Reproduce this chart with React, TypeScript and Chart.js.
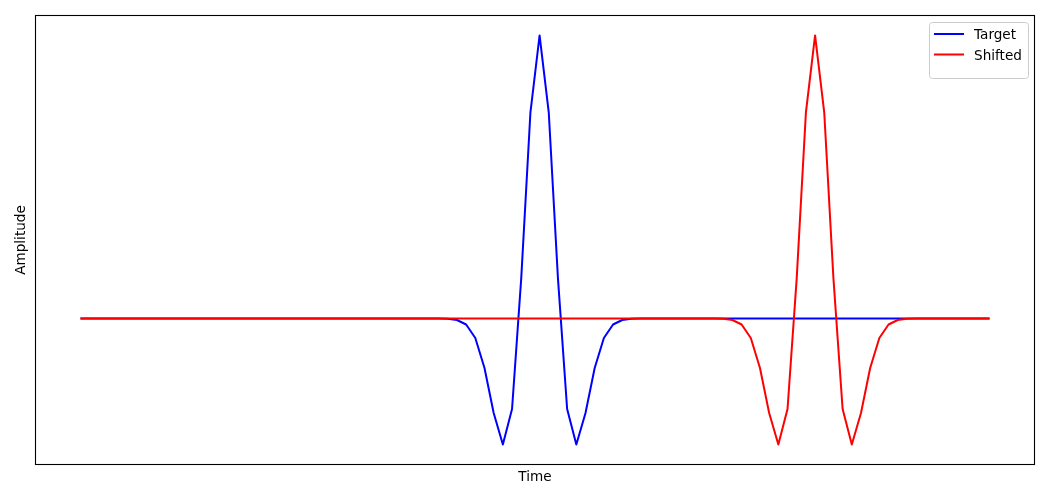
import React, { useEffect, useRef } from "react";
import { Chart, registerables } from "chart.js";

Chart.register(...registerables);

const timeSteps = [
  0, 1, 2, 3, 4, 5, 6, 7, 8, 9,
  10, 11, 12, 13, 14, 15, 16, 17, 18, 19,
  20, 21, 22, 23, 24, 25, 26, 27, 28, 29,
  30, 31, 32, 33, 34, 35, 36, 37, 38, 39,
  40, 41, 42, 43, 44, 45, 46, 47, 48, 49,
  50, 51, 52, 53, 54, 55, 56, 57, 58, 59,
  60, 61, 62, 63, 64, 65, 66, 67, 68, 69,
  70, 71, 72, 73, 74, 75, 76, 77, 78, 79,
  80, 81, 82, 83, 84, 85, 86, 87, 88, 89,
  90, 91, 92, 93, 94, 95, 96, 97, 98, 99,
];

const targetValues = [
  0, 0, 0, 0, 0, 0, 0, 0, 0, 0,
  0, 0, 0, 0, 0, 0, 0, 0, 0, 0,
  0, 0, 0, 0, 0, 0, 0, 0, 0, 0,
  0, 0, 0, 0, 0, 0, 0, 0, 0, -0.0002,
  -0.001, -0.0051, -0.021, -0.0688, -0.1748, -0.3337, -0.445, -0.3195, 0.1418, 0.7272,
  1, 0.7272, 0.1418, -0.3195, -0.445, -0.3337, -0.1748, -0.0688, -0.021, -0.0051,
  -0.001, -0.0002, 0, 0, 0, 0, 0, 0, 0, 0,
  0, 0, 0, 0, 0, 0, 0, 0, 0, 0,
  0, 0, 0, 0, 0, 0, 0, 0, 0, 0,
  0, 0, 0, 0, 0, 0, 0, 0, 0, 0,
];

const shiftedValues = [
  0, 0, 0, 0, 0, 0, 0, 0, 0, 0,
  0, 0, 0, 0, 0, 0, 0, 0, 0, 0,
  0, 0, 0, 0, 0, 0, 0, 0, 0, 0,
  0, 0, 0, 0, 0, 0, 0, 0, 0, 0,
  0, 0, 0, 0, 0, 0, 0, 0, 0, 0,
  0, 0, 0, 0, 0, 0, 0, 0, 0, 0,
  0, 0, 0, 0, 0, 0, 0, 0, 0, -0.0002,
  -0.001, -0.0051, -0.021, -0.0688, -0.1748, -0.3337, -0.445, -0.3195, 0.1418, 0.7272,
  1, 0.7272, 0.1418, -0.3195, -0.445, -0.3337, -0.1748, -0.0688, -0.021, -0.0051,
  -0.001, -0.0002, 0, 0, 0, 0, 0, 0, 0, 0,
];

const seriesNames = ["Target", "Shifted"];
const seriesColors = ["#0000ff", "#ff0000"];
const xAxisTitle = "Time";
const yAxisTitle = "Amplitude";

const FONT = '"DejaVu Sans", sans-serif';

const framePlugin = {
  id: "mplFrame",
  afterDraw(chart: any) {
    const { ctx, chartArea } = chart;
    const { left, top, right, bottom } = chartArea;
    ctx.save();
    // axes frame
    ctx.strokeStyle = "#000000";
    ctx.lineWidth = 1.1;
    ctx.strokeRect(Math.round(left) + 0.5, Math.round(top) + 0.5, Math.round(right - left) - 1, Math.round(bottom - top) - 1);

    // axis titles
    ctx.fillStyle = "#000000";
    ctx.font = `13.6px ${FONT}`;
    ctx.textAlign = "center";
    ctx.textBaseline = "middle";
    ctx.fillText(xAxisTitle, (left + right) / 2, 477.5);
    ctx.save();
    ctx.translate(21, (top + bottom) / 2);
    ctx.rotate(-Math.PI / 2);
    ctx.fillText(yAxisTitle, 0, 0);
    ctx.restore();

    // legend
    const bx = 929.5, by = 22.5, bw = 99, bh = 56, r = 3;
    ctx.beginPath();
    ctx.moveTo(bx + r, by);
    ctx.lineTo(bx + bw - r, by);
    ctx.quadraticCurveTo(bx + bw, by, bx + bw, by + r);
    ctx.lineTo(bx + bw, by + bh - r);
    ctx.quadraticCurveTo(bx + bw, by + bh, bx + bw - r, by + bh);
    ctx.lineTo(bx + r, by + bh);
    ctx.quadraticCurveTo(bx, by + bh, bx, by + bh - r);
    ctx.lineTo(bx, by + r);
    ctx.quadraticCurveTo(bx, by, bx + r, by);
    ctx.closePath();
    ctx.fillStyle = "rgba(255,255,255,0.8)";
    ctx.fill();
    ctx.strokeStyle = "#cccccc";
    ctx.lineWidth = 1;
    ctx.stroke();

    const rows = [34, 54.5];
    ctx.textAlign = "left";
    ctx.textBaseline = "middle";
    ctx.font = `13.6px ${FONT}`;
    seriesNames.forEach((name, i) => {
      ctx.strokeStyle = seriesColors[i];
      ctx.lineWidth = 2;
      ctx.beginPath();
      ctx.moveTo(934, rows[i]);
      ctx.lineTo(964, rows[i]);
      ctx.stroke();
      ctx.fillStyle = "#000000";
      ctx.fillText(name, 974, rows[i] + 1.5);
    });
    ctx.restore();
  },
};

export default function App() {
  const canvasRef = useRef<HTMLCanvasElement | null>(null);

  useEffect(() => {
    const canvas = canvasRef.current;
    if (!canvas) return;
    const all = [...targetValues, ...shiftedValues];
    const yMin = Math.min(...all);
    const yMax = Math.max(...all);
    const ym = (yMax - yMin) * 0.05;
    const xMin = timeSteps[0];
    const xMax = timeSteps[timeSteps.length - 1];
    const xm = (xMax - xMin) * 0.05;

    const lineStyle = {
      borderWidth: 2,
      pointRadius: 0,
      tension: 0,
      fill: false,
      borderJoinStyle: "round" as const,
      borderCapStyle: "butt" as const,
    };

    const chart = new Chart(canvas, {
      type: "line",
      data: {
        datasets: [
          {
            label: seriesNames[0],
            data: timeSteps.map((t, i) => ({ x: t, y: targetValues[i] })),
            borderColor: seriesColors[0],
            backgroundColor: seriesColors[0],
            order: 1,
            ...lineStyle,
          },
          {
            label: seriesNames[1],
            data: timeSteps.map((t, i) => ({ x: t, y: shiftedValues[i] })),
            borderColor: seriesColors[1],
            backgroundColor: seriesColors[1],
            order: 0,
            ...lineStyle,
          },
        ],
      },
      options: {
        responsive: false,
        animation: false,
        devicePixelRatio: 1,
        layout: { padding: { left: 35, top: 15, right: 15, bottom: 35 } },
        plugins: {
          legend: { display: false },
          tooltip: { enabled: false },
        },
        scales: {
          x: { type: "linear", display: false, min: xMin - xm, max: xMax + xm },
          y: { type: "linear", display: false, min: yMin - ym, max: yMax + ym },
        },
      },
      plugins: [framePlugin],
    });
    return () => chart.destroy();
  }, []);

  return (
    <div style={{ position: "fixed", left: 0, top: 0, width: 1050, height: 500, background: "#ffffff" }}>
      <canvas ref={canvasRef} width={1050} height={500} style={{ display: "block", width: 1050, height: 500 }} />
    </div>
  );
}
